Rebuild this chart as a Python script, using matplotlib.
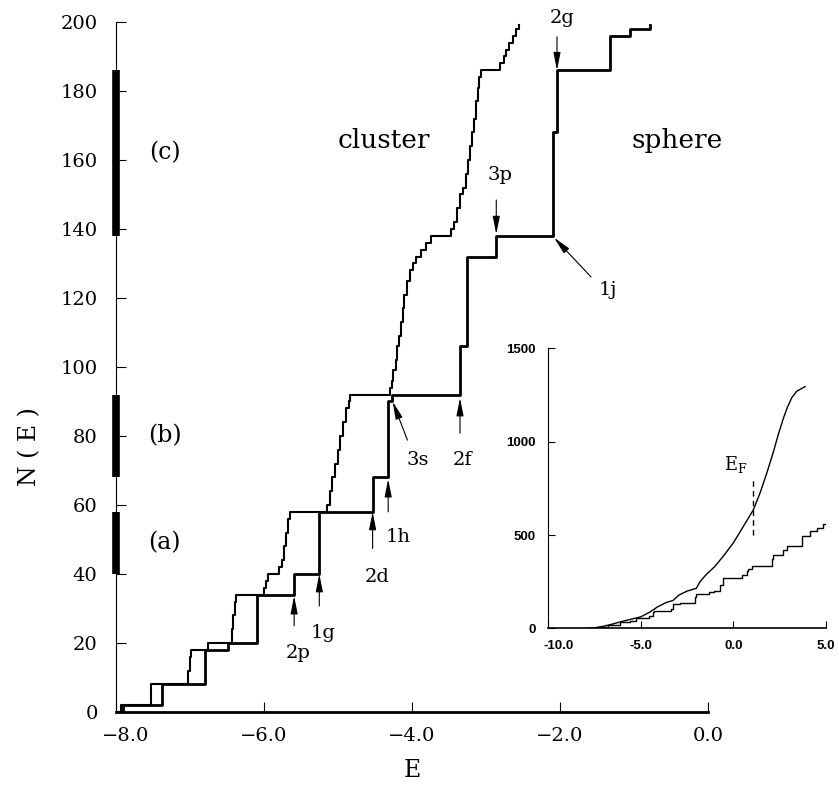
import matplotlib.pyplot as plt
from matplotlib.transforms import ScaledTranslation

# ---------- data ----------
# main panel: integrated level count N(E), cluster vs. spherical jellium
cluster_E = [-8.00, -7.93, -7.52, -7.02, -7.00, -6.98, -6.76, -6.43, -6.41, -6.39,
             -6.37, -6.00, -5.97, -5.94, -5.80, -5.76, -5.73, -5.70, -5.67, -5.64,
             -5.14, -5.11, -5.08, -5.04, -5.00, -4.97, -4.93, -4.89, -4.85, -4.83,
             -4.29, -4.27, -4.25, -4.22, -4.20, -4.18, -4.15, -4.12, -4.10, -4.07,
             -4.03, -3.99, -3.95, -3.88, -3.81, -3.74, -3.47, -3.43, -3.39, -3.35,
             -3.31, -3.27, -3.24, -3.21, -3.19, -3.16, -3.14, -3.11, -3.09, -3.07,
             -2.81, -2.76, -2.73, -2.69, -2.64, -2.59, -2.55]
cluster_N = [0, 2, 8, 12, 16, 18, 20, 24, 28, 32,
             34, 36, 38, 40, 42, 44, 48, 52, 56, 58,
             60, 64, 68, 72, 76, 80, 84, 88, 90, 92,
             94, 96, 99, 102, 106, 109, 113, 117, 121, 125,
             128, 130, 132, 134, 136, 138, 140, 142, 146, 150,
             152, 156, 160, 164, 168, 172, 177, 181, 184, 186,
             188, 190, 192, 194, 196, 198, 199]

sphere_E = [-8.00, -7.90, -7.38, -6.79, -6.49, -6.09, -5.59, -5.25, -4.53, -4.32,
            -4.27, -3.35, -3.26, -2.86, -2.09, -2.04, -1.33, -1.06, -0.78]
sphere_N = [0, 2, 8, 18, 20, 34, 40, 58, 68, 90,
            92, 106, 132, 138, 168, 186, 196, 198, 199]

# shell blocks drawn on the N axis
shell_names = ["(a)", "(b)", "(c)"]
shell_lo = [40, 68, 138]
shell_hi = [58, 92, 186]

# shell arrows: label, tail (E, N), tip (E, N), label position (E, N)
shell_tags = ["2p", "1g", "2d", "1h", "3s", "2f", "3p", "2g", "1j"]
tag_tail = [(-5.59, 25.0), (-5.25, 30.7), (-4.53, 47.4), (-4.32, 58.0), (-4.06, 78.8),
            (-3.35, 80.8), (-2.86, 148.4), (-2.04, 195.7), (-1.58, 126.1)]
tag_tip = [(-5.59, 33.6), (-5.25, 40.0), (-4.53, 58.0), (-4.32, 67.5), (-4.26, 90.0),
           (-3.35, 91.0), (-2.86, 138.5), (-2.04, 186.0), (-2.08, 137.5)]
tag_pos = [(-5.53, 17.1), (-5.20, 22.9), (-4.47, 39.1), (-4.18, 50.7), (-3.92, 73.0),
           (-3.32, 73.0), (-2.81, 155.7), (-1.97, 201.2), (-1.36, 122.3)]

main_xticks = [-8, -6, -4, -2, 0]
main_xlabels = ["\u22128.0", "\u22126.0", "\u22124.0", "\u22122.0", "0.0"]
main_yticks = list(range(0, 201, 20))

# inset: wider energy range
inset_cluster_E = [-8.0, -7.5, -7.0, -6.5, -6.0, -5.5, -5.0, -4.5, -4.1, -3.6,
                   -3.25, -2.95, -2.5, -2.0, -1.8, -1.5, -1.0, -0.55, 0.0, 0.55,
                   1.08, 1.44, 1.80, 2.16, 2.43, 2.70, 2.90, 3.15, 3.42, 3.87]
inset_cluster_N = [0, 3, 12, 24, 38, 50, 62, 88, 115, 140,
                   150, 178, 200, 215, 250, 285, 332, 386, 458, 548,
                   635, 725, 830, 945, 1040, 1125, 1180, 1235, 1270, 1295]

inset_sphere_E = [-8.00, -7.90, -7.38, -6.79, -6.49, -6.09, -5.59, -5.25, -4.53, -4.32,
                  -4.27, -3.35, -3.26, -2.86, -2.09, -2.04, -1.33, -1.06, -0.72, -0.54,
                  0.45, 0.72, 0.81, 0.99, 2.07, 2.16, 2.70, 2.88, 3.69, 4.14,
                  4.50, 4.86, 5.00]
inset_sphere_N = [0, 2, 8, 18, 20, 34, 40, 58, 68, 90,
                  92, 106, 132, 138, 168, 186, 196, 198, 234, 270,
                  288, 306, 316, 336, 370, 395, 422, 440, 494, 521,
                  539, 557, 557]

E_fermi = 1.08
E_fermi_span = [500, 810]

inset_xticks = [-10, -5, 0, 5]
inset_xlabels = ["-10.0", "-5.0", "0.0", "5.0"]
inset_yticks = [0, 500, 1000, 1500]

# ---------- figure ----------
plt.rcParams['font.family'] = ['DejaVu Serif']
plt.rcParams['mathtext.fontset'] = 'dejavuserif'

fig = plt.figure(figsize=(8.39, 7.85), dpi=100)
ax = fig.add_axes([0.1379, 0.0930, 0.7060, 0.8790])

ax.plot(cluster_E, cluster_N, drawstyle='steps-post', color='black', lw=1.5)
ax.plot(sphere_E, sphere_N, drawstyle='steps-post', color='black', lw=2.0)

ax.set_xlim(-8, 0)
ax.set_ylim(0, 200)
ax.spines['top'].set_visible(False)
ax.spines['right'].set_visible(False)
ax.spines['left'].set_linewidth(0.8)
ax.spines['bottom'].set_linewidth(2.0)

ax.set_xticks(main_xticks)
ax.set_xticklabels(main_xlabels)
ax.set_yticks(main_yticks)
ax.tick_params(direction='in', length=7, width=0.8, labelsize=14)
ax.tick_params(axis='y', pad=13)
ax.tick_params(axis='x', pad=11)
# first x label sits a bit right of the corner in the original
lbl0 = ax.get_xticklabels()[0]
lbl0.set_transform(lbl0.get_transform() + ScaledTranslation(0.10, 0, fig.dpi_scale_trans))

ax.set_xlabel("E", fontsize=17)
ax.xaxis.set_label_coords(0.5, -0.068)
ax.set_ylabel("N ( E )", fontsize=17)
ax.yaxis.set_label_coords(-0.125, 0.385)

# shell blocks on the axis
ax.vlines([-8.0] * len(shell_lo), shell_lo, shell_hi, color='black', lw=5.5,
          capstyle='butt', clip_on=False, zorder=5)
for name, lo, hi in zip(shell_names, shell_lo, shell_hi):
    ax.text(-7.34, (lo + hi) / 2, name, fontsize=17, ha='center', va='center')

ax.text(-4.38, 163.4, "cluster", fontsize=19, ha='center', va='baseline')
ax.text(-0.42, 163.4, "sphere", fontsize=19, ha='center', va='baseline')

for tag, tail, tip, pos in zip(shell_tags, tag_tail, tag_tip, tag_pos):
    ax.annotate("", xy=tip, xytext=tail,
                arrowprops=dict(arrowstyle='-|>,head_length=0.9,head_width=0.18',
                                mutation_scale=12, lw=0.8, color='black',
                                shrinkA=0, shrinkB=0),
                annotation_clip=False)
    ax.text(pos[0], pos[1], tag, fontsize=14, ha='center', va='center', clip_on=False)

# ---------- inset ----------
axin = fig.add_axes([0.6532, 0.1994, 0.3313, 0.3569])
axin.set_facecolor('none')
axin.plot(inset_cluster_E, inset_cluster_N, color='black', lw=1.0)
axin.plot(inset_sphere_E, inset_sphere_N, drawstyle='steps-post', color='black', lw=1.0)
axin.plot([E_fermi, E_fermi], E_fermi_span, color='black', lw=1.0, ls=(0, (4, 3)))
axin.text(-0.49, 848, r"$\mathrm{E_F}$", fontsize=13, ha='left', va='baseline')

axin.set_xlim(-10, 5)
axin.set_ylim(0, 1500)
axin.spines['top'].set_visible(False)
axin.spines['right'].set_visible(False)
axin.spines['left'].set_linewidth(0.8)
axin.spines['bottom'].set_linewidth(1.2)
axin.set_xticks(inset_xticks)
axin.set_xticklabels(inset_xlabels)
axin.set_yticks(inset_yticks)
axin.tick_params(direction='in', length=5, width=0.8, labelsize=9.5)
axin.tick_params(axis='x', pad=8)
axin.tick_params(axis='y', pad=9)
for lbl in axin.get_xticklabels() + axin.get_yticklabels():
    lbl.set_fontfamily('Liberation Sans')
    lbl.set_fontweight('bold')
lbl0 = axin.get_xticklabels()[0]
lbl0.set_transform(lbl0.get_transform() + ScaledTranslation(0.11, 0, fig.dpi_scale_trans))

fig.savefig("out.png", dpi=100)
plt.close(fig)
